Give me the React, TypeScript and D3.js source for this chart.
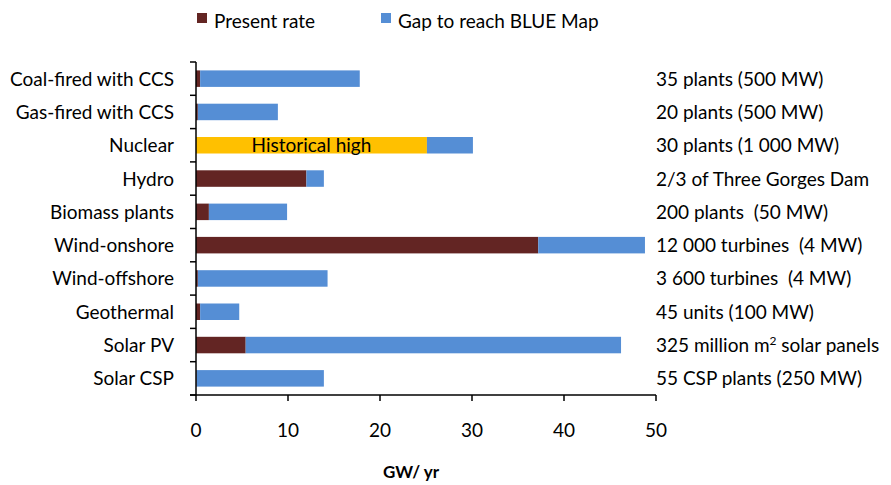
import React from "react";
import * as d3 from "d3";

const categories = [
  "Coal-fired with CCS",
  "Gas-fired with CCS",
  "Nuclear",
  "Hydro",
  "Biomass plants",
  "Wind-onshore",
  "Wind-offshore",
  "Geothermal",
  "Solar PV",
  "Solar CSP",
];
const presentRate = [0.45, 0.2, 0, 12.0, 1.4, 37.2, 0.2, 0.45, 5.4, 0.05];
const historicalHigh = [0, 0, 25.1, 0, 0, 0, 0, 0, 0, 0];
const gapToBlue = [17.35, 8.7, 5.0, 1.9, 8.5, 11.6, 14.1, 4.25, 40.8, 13.85];
const rightLabels = [
  "35 plants (500 MW)",
  "20 plants (500 MW)",
  "30 plants (1 000 MW)",
  "2/3 of Three Gorges Dam",
  "200 plants \u00a0(50 MW)",
  "12 000 turbines \u00a0(4 MW)",
  "3 600 turbines \u00a0(4 MW)",
  "45 units (100 MW)",
  "325 million m² solar panels",
  "55 CSP plants (250 MW)",
];
const xTicks = [0, 10, 20, 30, 40, 50];

const W = 891;
const H = 485;
const FONT = "Lato, 'Open Sans', sans-serif";
const FS = 19;
const C_PRESENT = "#632523";
const C_GAP = "#558ed5";
const C_HIST = "#ffc000";

export default function App() {
  const x = d3.scaleLinear().domain([0, 50]).range([196, 656]);
  const yb = d3.scaleBand<string>().domain(categories).range([62, 395]);
  const bh = 16.5;

  return (
    <svg width={W} height={H} style={{ position: "absolute", left: 0, top: 0, fontFamily: FONT }}>
      <rect width={W} height={H} fill="#fff" />
      {/* legend */}
      <rect x={197} y={13} width={10} height={10} fill={C_PRESENT} />
      <text x={214} y={28} fontSize={FS} fill="#000">Present rate</text>
      <rect x={381} y={13} width={10} height={10} fill={C_GAP} />
      <text x={398} y={28} fontSize={FS} fill="#000">Gap to reach BLUE Map</text>

      {categories.map((c, i) => {
        const cy = (yb(c) as number) + yb.bandwidth() / 2;
        const y0 = cy - bh / 2;
        const p = presentRate[i];
        const h = historicalHigh[i];
        const g = gapToBlue[i];
        const start = p + h;
        const lbl = rightLabels[i];
        return (
          <g key={c}>
            {p > 0 && (
              <rect x={x(0)} y={y0} width={x(p) - x(0)} height={bh} fill={C_PRESENT} />
            )}
            {h > 0 && (
              <rect x={x(p)} y={y0} width={x(p + h) - x(p)} height={bh} fill={C_HIST} />
            )}
            <rect x={x(start)} y={y0} width={x(start + g) - x(start)} height={bh} fill={C_GAP} />
            {h > 0 && (
              <text x={(x(p) + x(p + h)) / 2} y={cy + 6.5} fontSize={FS} textAnchor="middle" fill="#000">
                Historical high
              </text>
            )}
            <text x={174} y={cy + 7} fontSize={FS} textAnchor="end" fill="#000">{c}</text>
            <text x={656} y={cy + 7} fontSize={FS} fill="#000">
              {lbl.includes("m²") ? (
                <>
                  {lbl.split("m²")[0]}m
                  <tspan dy={-7} fontSize={12}>2</tspan>
                  <tspan dy={7}>{lbl.split("m²")[1]}</tspan>
                </>
              ) : (
                lbl
              )}
            </text>
          </g>
        );
      })}

      {/* y axis */}
      <line x1={196} x2={196} y1={62} y2={395} stroke="#000" strokeWidth={1.5} />
      {categories.map((c) => (
        <line key={"t" + c} x1={190} x2={196} y1={yb(c) as number} y2={yb(c) as number} stroke="#000" strokeWidth={1.5} />
      ))}
      <line x1={190} x2={196} y1={395} y2={395} stroke="#000" strokeWidth={1.5} />
      {/* x axis */}
      <line x1={190} x2={x(50)} y1={395} y2={395} stroke="#000" strokeWidth={1.5} />
      {xTicks.map((t) => (
        <g key={"x" + t}>
          <line x1={x(t)} x2={x(t)} y1={395} y2={401} stroke="#000" strokeWidth={1.5} />
          <text x={x(t)} y={437} fontSize={FS} textAnchor="middle" fill="#000">{t}</text>
        </g>
      ))}
      <text x={411} y={478} fontSize={17} fontWeight="bold" textAnchor="middle" fill="#000">GW/ yr</text>
    </svg>
  );
}
